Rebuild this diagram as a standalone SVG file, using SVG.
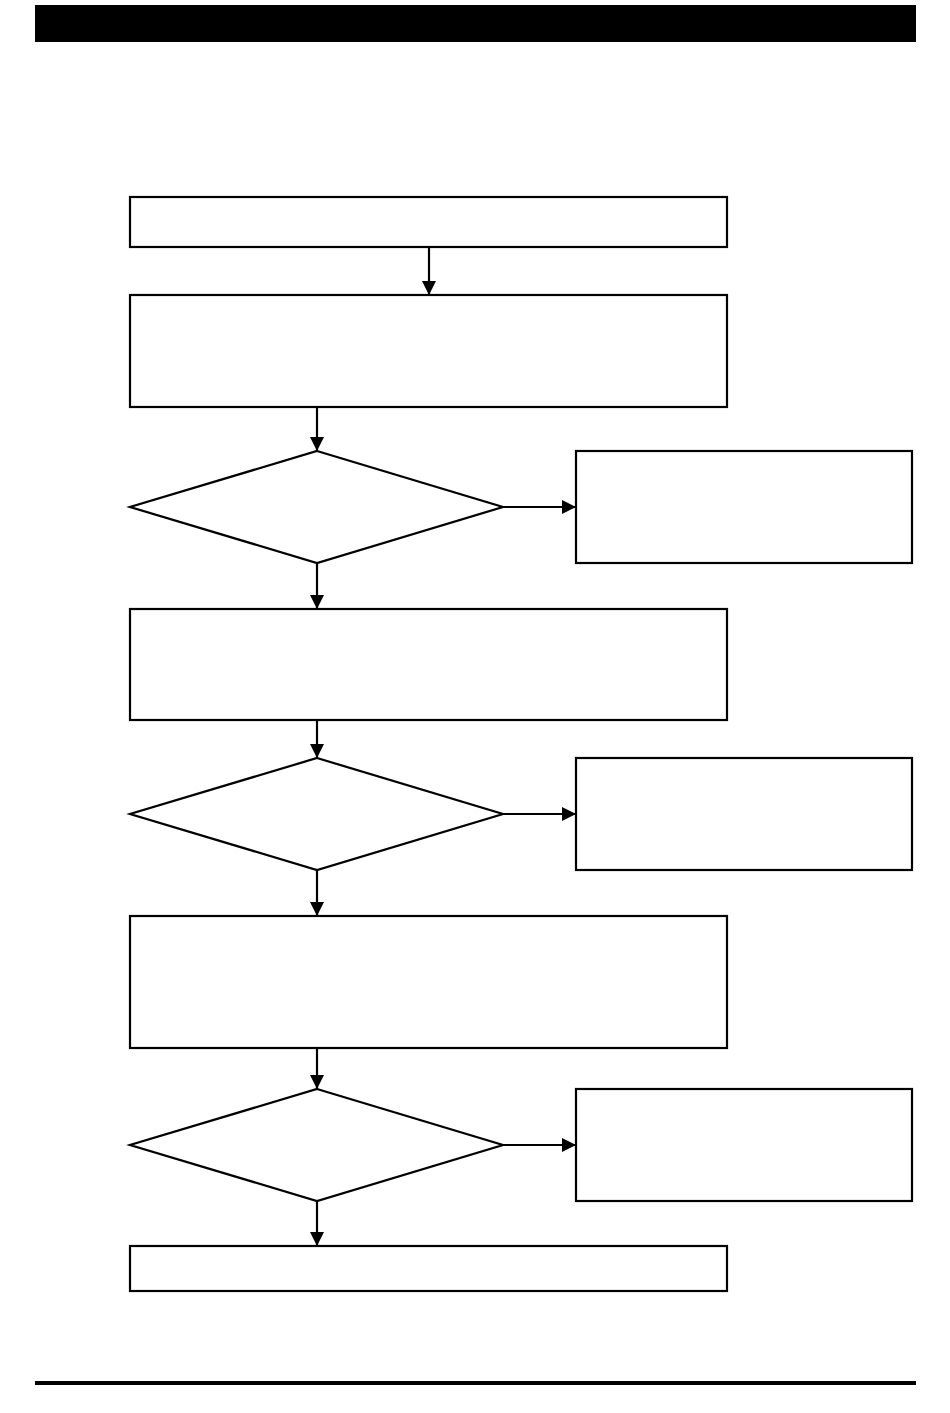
<svg xmlns="http://www.w3.org/2000/svg" width="950" height="1413" viewBox="0 0 950 1413">
<style>
.n{fill:#fff;stroke:#000;stroke-width:2.2}
.c{fill:none;stroke:#000;stroke-width:2.2;marker-end:url(#ah)}
</style>
<defs>
<marker id="ah" markerWidth="14" markerHeight="14" refX="14" refY="7" orient="auto" markerUnits="userSpaceOnUse">
<path d="M0,0 L14,7 L0,14 Z" fill="#000"/>
</marker>
</defs>
<rect width="950" height="1413" fill="#fff"/>
<rect id="header" x="35" y="5" width="881" height="37" fill="#000"/>
<rect id="footer" x="35" y="1381" width="881" height="4" fill="#000"/>
<g id="box1"><rect class="n" x="130" y="197" width="597" height="50"/></g>
<g id="box2"><rect class="n" x="130" y="295" width="597" height="112"/></g>
<g id="dec1"><polygon class="n" points="317,451 503,507 317,563 130,507"/></g>
<g id="side1"><rect class="n" x="576" y="451" width="336" height="112"/></g>
<g id="box3"><rect class="n" x="130" y="609" width="597" height="111"/></g>
<g id="dec2"><polygon class="n" points="317,758 503,814 317,870 130,814"/></g>
<g id="side2"><rect class="n" x="576" y="758" width="336" height="112"/></g>
<g id="box4"><rect class="n" x="130" y="916" width="597" height="132"/></g>
<g id="dec3"><polygon class="n" points="317,1089 503,1145 317,1201 130,1145"/></g>
<g id="side3"><rect class="n" x="576" y="1089" width="336" height="112"/></g>
<g id="box5"><rect class="n" x="130" y="1246" width="597" height="45"/></g>
<g id="connectors">
<line class="c" x1="429" y1="247" x2="429" y2="295"/>
<line class="c" x1="317" y1="407" x2="317" y2="451"/>
<line class="c" x1="503" y1="507" x2="576" y2="507"/>
<line class="c" x1="317" y1="563" x2="317" y2="609"/>
<line class="c" x1="317" y1="720" x2="317" y2="758"/>
<line class="c" x1="503" y1="814" x2="576" y2="814"/>
<line class="c" x1="317" y1="870" x2="317" y2="916"/>
<line class="c" x1="317" y1="1048" x2="317" y2="1089"/>
<line class="c" x1="503" y1="1145" x2="576" y2="1145"/>
<line class="c" x1="317" y1="1201" x2="317" y2="1246"/>
</g>
</svg>
